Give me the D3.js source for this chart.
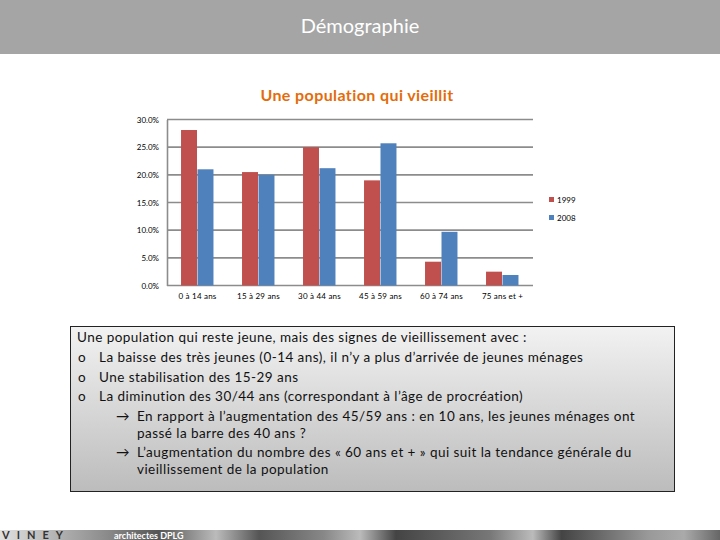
<!DOCTYPE html>
<html>
<head>
<meta charset="utf-8">
<script src="https://cdn.jsdelivr.net/npm/d3@7"></script>
<style>
  body { margin: 0; background: #fff; }
  svg { display: block; font-family: Lato, "Open Sans", sans-serif; }
</style>
</head>
<body>
<div id="chart"></div>
<script>
// Data
var categories = ["0 à 14 ans", "15 à 29 ans", "30 à 44 ans", "45 à 59 ans", "60 à 74 ans", "75 ans et +"];
var series = ["1999", "2008"];
var values1999 = [28.1, 20.5, 25.0, 19.0, 4.3, 2.5];
var values2008 = [21.0, 20.0, 21.2, 25.7, 9.7, 1.9];
var yTicks = [0, 5, 10, 15, 20, 25, 30];
var colors = ["#C0504D", "#4F81BD"];

var bulletLines = [
    { type: "plain", text: "Une population qui reste jeune, mais des signes de vieillissement  avec :" },
    { type: "o", text: "La baisse des très jeunes (0-14 ans), il n’y a plus d’arrivée de jeunes ménages" },
    { type: "o", text: "Une stabilisation des 15-29 ans" },
    { type: "o", text: "La diminution des 30/44 ans (correspondant à l’âge de procréation)" },
    { type: "arrow", text: "En rapport à l’augmentation des 45/59 ans : en 10 ans, les jeunes ménages ont" },
    { type: "cont", text: "passé la barre des 40 ans ?" },
    { type: "arrow", text: "L’augmentation du nombre des « 60 ans et + » qui suit la tendance générale du" },
    { type: "cont", text: "vieillissement de la population" }
];
var lineY = [338, 358, 378, 397, 417, 434, 453, 470];

var width = 720;
var height = 540;

var svg = d3.select("#chart")
    .append("svg")
    .attr("width", width)
    .attr("height", height);

var defs = svg.append("defs");

// Header band
svg.append("rect")
    .attr("x", 0).attr("y", 0)
    .attr("width", width).attr("height", 54)
    .attr("fill", "#a5a5a5");
svg.append("text")
    .attr("x", 360).attr("y", 33)
    .attr("text-anchor", "middle")
    .attr("fill", "#fff")
    .style("font-size", "20px")
    .text("Démographie");

// Chart title
svg.append("text")
    .attr("x", 357).attr("y", 101)
    .attr("text-anchor", "middle")
    .attr("fill", "#E46C0A")
    .style("font-size", "16px")
    .style("font-weight", "bold")
    .attr("letter-spacing", "0.4")
    .text("Une population qui vieillit");

// Plot area
var plot = { left: 167, right: 533, top: 119.5, bottom: 285.5 };

var x0 = d3.scaleBand()
    .domain(categories)
    .range([plot.left, plot.right])
    .paddingInner(0.46)
    .paddingOuter(0.23);

var x1 = d3.scaleBand()
    .domain(series)
    .range([0, x0.bandwidth()]);

var y = d3.scaleLinear()
    .domain([0, 30])
    .range([plot.bottom, plot.top]);

// Gridlines
svg.append("g")
    .selectAll("line")
    .data(yTicks)
    .enter()
    .append("line")
    .attr("x1", plot.left)
    .attr("x2", plot.right)
    .attr("y1", function(d) { return y(d); })
    .attr("y2", function(d) { return y(d); })
    .attr("stroke", "#8c8c8c")
    .attr("stroke-width", 1.6);

// Y axis
var yAxis = svg.append("g")
    .attr("transform", "translate(" + plot.left + ",0)")
    .call(d3.axisLeft(y)
        .tickValues(yTicks)
        .tickSize(0)
        .tickPadding(8)
        .tickFormat(function(d) { return d.toFixed(1) + "%"; }));
yAxis.select(".domain")
    .attr("stroke", "#8c8c8c")
    .attr("stroke-width", 1.6);
yAxis.selectAll("text")
    .style("font-size", "8px")
    .style("font-family", "Lato, sans-serif")
    .attr("fill", "#000");

// X axis labels
var xAxis = svg.append("g")
    .attr("transform", "translate(0," + plot.bottom + ")")
    .call(d3.axisBottom(x0).tickSize(0).tickPadding(8));
xAxis.select(".domain").remove();
xAxis.selectAll("text")
    .style("font-size", "8px")
    .style("font-family", "Lato, sans-serif")
    .attr("letter-spacing", "0.2")
    .attr("fill", "#000");

// Bars
var rows = categories.map(function(c, i) {
    return { cat: c, vals: [values1999[i], values2008[i]] };
});

svg.append("g")
    .selectAll("g")
    .data(rows)
    .enter()
    .append("g")
    .attr("transform", function(d) { return "translate(" + x0(d.cat) + ",0)"; })
    .selectAll("rect")
    .data(function(d) { return d.vals.map(function(v, j) { return { s: series[j], v: v, j: j }; }); })
    .enter()
    .append("rect")
    .attr("x", function(d) { return x1(d.s); })
    .attr("width", x1.bandwidth() - 0.5)
    .attr("y", function(d) { return y(d.v); })
    .attr("height", function(d) { return plot.bottom - y(d.v); })
    .attr("fill", function(d) { return colors[d.j]; });

// Legend
var legend = svg.append("g")
    .selectAll("g")
    .data(series)
    .enter()
    .append("g")
    .attr("transform", function(d, i) { return "translate(549," + (200 + i * 18) + ")"; });
legend.append("rect")
    .attr("x", 0).attr("y", -3)
    .attr("width", 5).attr("height", 5)
    .attr("fill", function(d, i) { return colors[i]; });
legend.append("text")
    .attr("x", 8).attr("y", 2.5)
    .style("font-size", "8px")
    .text(function(d) { return d; });

// Comment box
var grad = defs.append("linearGradient")
    .attr("id", "boxGrad")
    .attr("x1", 0).attr("y1", 0).attr("x2", 0).attr("y2", 1);
grad.append("stop").attr("offset", "0%").attr("stop-color", "#f2f2f2");
grad.append("stop").attr("offset", "100%").attr("stop-color", "#bcbcbc");

svg.append("rect")
    .attr("x", 70.5).attr("y", 326.5)
    .attr("width", 604).attr("height", 165)
    .attr("fill", "url(#boxGrad)")
    .attr("stroke", "#222")
    .attr("stroke-width", 1);

var lines = svg.append("g")
    .style("font-size", "13.5px")
    .attr("letter-spacing", "0.45")
    .attr("fill", "#111");

bulletLines.forEach(function(l, i) {
    var yy = lineY[i] + 4;
    if (l.type === "plain") {
        lines.append("text").attr("x", 77).attr("y", yy).text(l.text);
    } else if (l.type === "o") {
        lines.append("text").attr("x", 78).attr("y", yy).text("o");
        lines.append("text").attr("x", 99).attr("y", yy).text(l.text);
    } else if (l.type === "arrow") {
        lines.append("text").attr("x", 116).attr("y", yy).text("→");
        lines.append("text").attr("x", 137).attr("y", yy).text(l.text);
    } else {
        lines.append("text").attr("x", 137).attr("y", yy).text(l.text);
    }
});

// Footer strip
var fgrad = defs.append("linearGradient")
    .attr("id", "footGrad")
    .attr("x1", 0).attr("y1", 0).attr("x2", 1).attr("y2", 0);
var fstops = [[0, "#e0e0e0"], [0.15, "#8a8a8a"], [0.22, "#555"], [0.3, "#bbb"], [0.36, "#555"],
    [0.45, "#888"], [0.5, "#bbb"], [0.55, "#444"], [0.68, "#777"], [0.74, "#bbb"],
    [0.78, "#444"], [0.9, "#999"], [0.95, "#aaa"], [1, "#666"]];
fstops.forEach(function(s) {
    fgrad.append("stop").attr("offset", s[0]).attr("stop-color", s[1]);
});
svg.append("rect")
    .attr("x", 0).attr("y", 530)
    .attr("width", width).attr("height", 10)
    .attr("fill", "url(#footGrad)");

svg.append("text")
    .attr("x", 2).attr("y", 539)
    .attr("fill", "#333")
    .style("font-size", "11px")
    .style("font-weight", "bold")
    .attr("letter-spacing", "7")
    .text("VINEY");
svg.append("text")
    .attr("x", 114).attr("y", 538.5)
    .attr("fill", "#fff")
    .style("font-size", "9px")
    .style("font-weight", "bold")
    .text("architectes DPLG");
</script>
</body>
</html>
